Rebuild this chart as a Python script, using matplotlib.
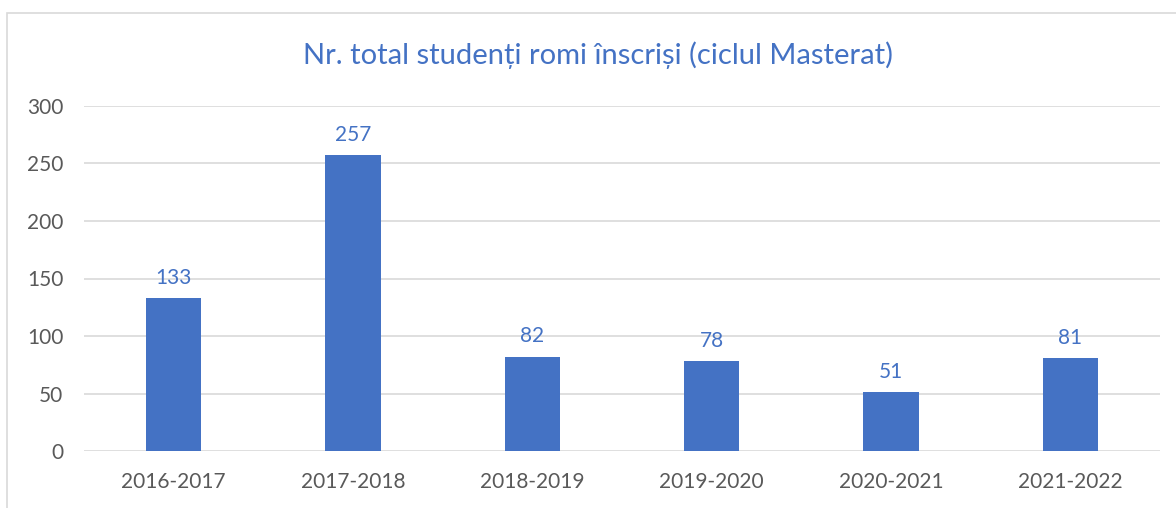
import matplotlib
matplotlib.use("Agg")
import matplotlib.pyplot as plt
from matplotlib.patches import Rectangle

years = ["2016-2017", "2017-2018", "2018-2019", "2019-2020", "2020-2021", "2021-2022"]
students = [133, 257, 82, 78, 51, 81]
yticks = [0, 50, 100, 150, 200, 250, 300]

plt.rcParams['font.family'] = ['Lato', 'DejaVu Sans']
blue = "#4472C4"
grey = "#595959"

fig = plt.figure(figsize=(11.76, 5.08), dpi=100)
ax = fig.add_axes([84 / 1176, 1 - 451 / 508, 1076 / 1176, 345 / 508])

# chart frame (cropped at right and bottom in the reference)
fig.patches.append(Rectangle((7 / 1176, -0.1), 1.2, 1 - 13 / 508 + 0.1,
                             transform=fig.transFigure, fill=False,
                             edgecolor="#d9d9d9", linewidth=1.2))

x = range(len(years))
bars = ax.bar(x, students, width=0.31, color=blue, zorder=3)
for b, v in zip(bars, students):
    ax.text(b.get_x() + b.get_width() / 2, v + 9, str(v), ha="center", va="bottom",
            color=blue, fontsize=15)

ax.set_xlim(-0.5, len(years) - 0.5)
ax.set_ylim(0, 300)
ax.set_yticks(yticks)
ax.set_xticks(list(x))
ax.set_xticklabels(years)
ax.tick_params(axis="both", length=0, colors=grey, labelsize=15)
ax.tick_params(axis="x", pad=15)
ax.tick_params(axis="y", pad=15)
ax.grid(axis="y", color="#d9d9d9", linewidth=1.2, zorder=0)
for s in ax.spines.values():
    s.set_visible(False)

fig.text(598 / 1176, 1 - 55 / 508, "Nr. total studenți romi înscriși (ciclul Masterat)",
         ha="center", va="center", color=blue, fontsize=21)

fig.savefig("out.png", dpi=100)
